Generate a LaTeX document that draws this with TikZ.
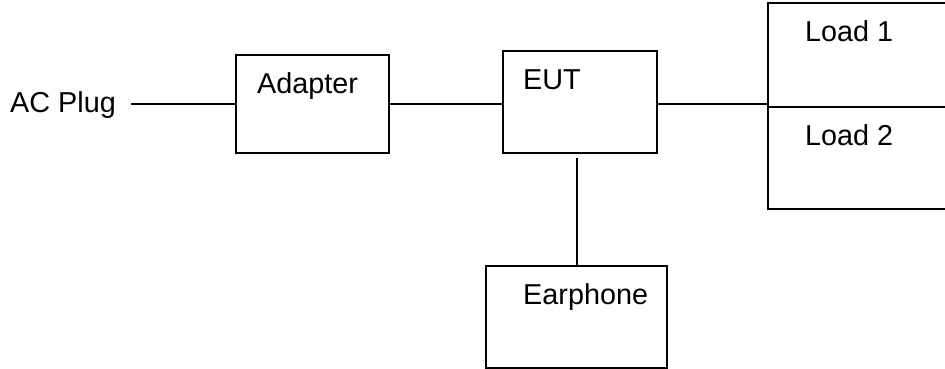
\documentclass[tikz,border=0pt]{standalone}
\usepackage{fontspec}
\setmainfont{Liberation Sans}
\usetikzlibrary{positioning}
\tikzset{blk/.style={draw, line width=2.2pt, inner sep=0pt, outer sep=0pt, anchor=north west}}
\tikzset{txt/.style={anchor=base west, inner sep=0pt, font=\fontsize{28.8}{34}\selectfont}}
\tikzset{wire/.style={line width=2pt}}

\begin{document}
\begin{tikzpicture}[x=1pt, y=-1pt]
				\clip (0,0) rectangle (945,369);
				%
				\node[blk, minimum width=153pt, minimum height=98pt] (adapter) at (236,55) {};
				\node[blk, minimum width=154pt, minimum height=102pt] (eut) at (503,51) {};
				\node[blk, minimum width=200pt, minimum height=104pt] (load1) at (768,3) {};
				\node[blk, minimum width=200pt, minimum height=102pt] (load2) at (768,107) {};
				\node[blk, minimum width=181pt, minimum height=102pt] (earphone) at (486,266) {};
				%
				\node[txt] (acplug) at (10,112) {AC Plug};
				\node[txt] (adaptertxt) at (257,93) {Adapter};
				\node[txt] (euttxt) at (523,89) {EUT};
				\node[txt] (load1txt) at (805,42) {Load 1};
				\node[txt] (load2txt) at (805,145) {Load 2};
				\node[txt] (earphonetxt) at (523,304) {Earphone};
				%
				\draw[wire] ([xshift=15pt]acplug.east |- adapter.west) -- (adapter.west);
				\draw[wire] (adapter.east) -- (adapter.east -| eut.west);
				\draw[wire] ([yshift=-2pt]eut.east) -- ([yshift=-2pt]eut.east -| load1.west);
				\draw[wire] ([yshift=-5pt]earphone.north |- eut.south) -- (earphone.north);
			\end{tikzpicture}
\end{document}
